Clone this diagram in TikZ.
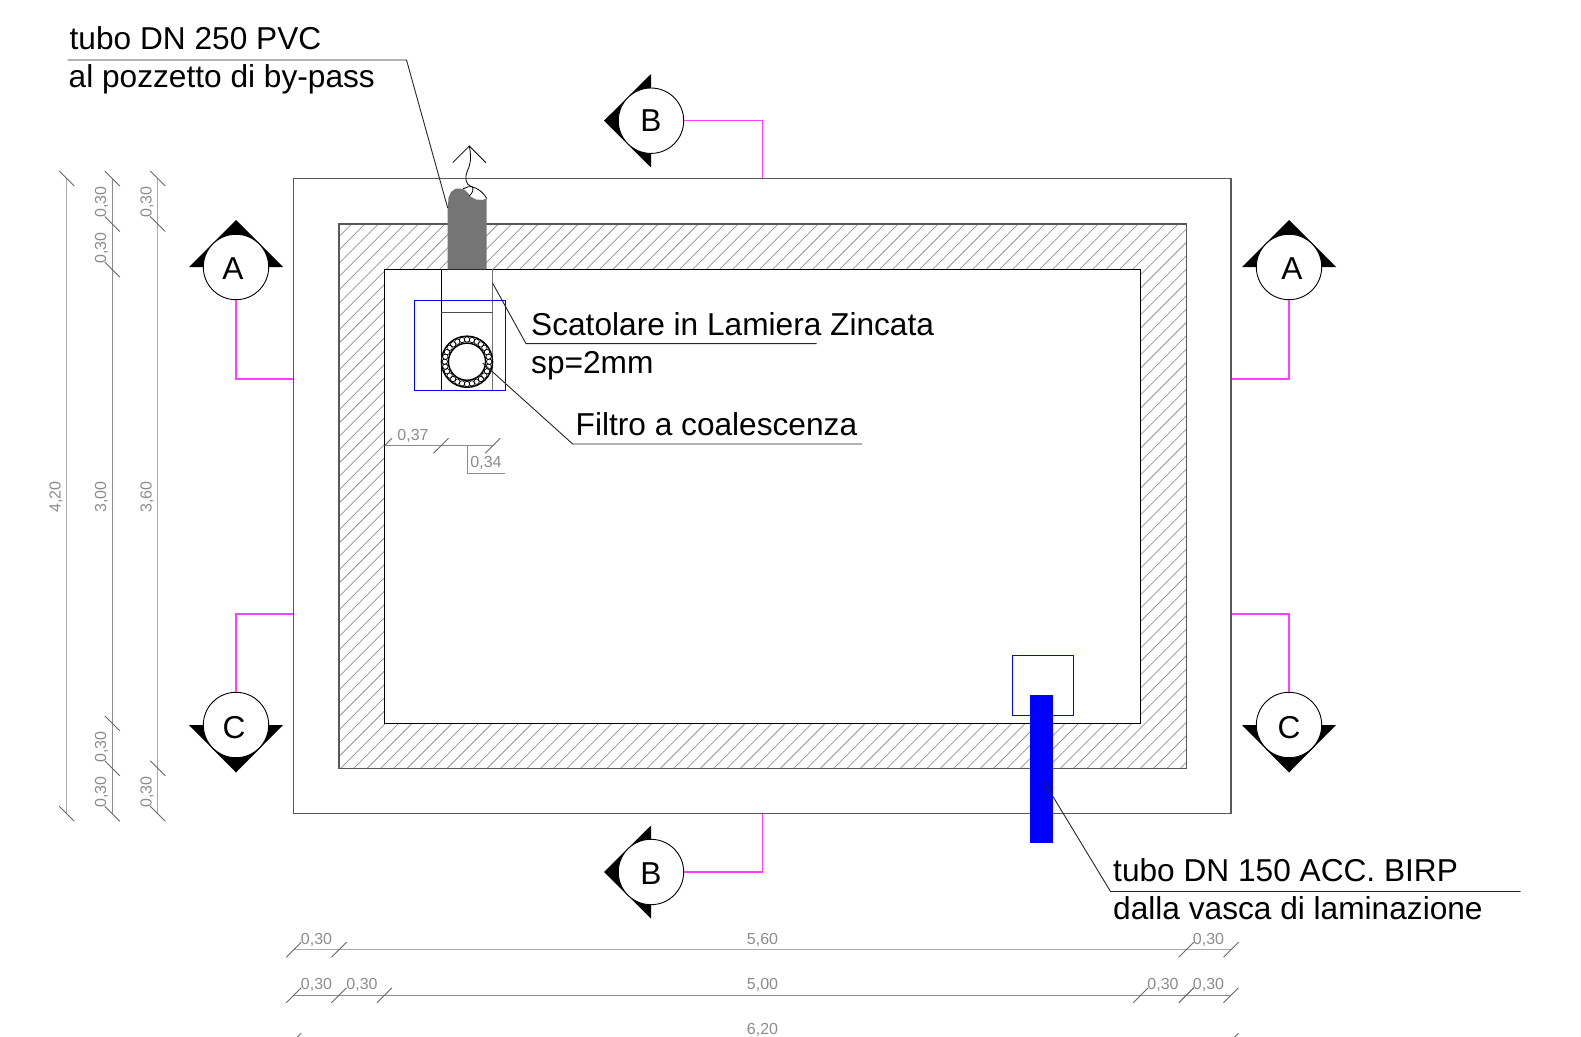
\documentclass[tikz,border=0pt]{standalone}
\usepackage{fontspec}
\usetikzlibrary{calc}
\setmainfont{Liberation Sans}
\newcommand{\txtfont}{\fontsize{31.65}{36}\selectfont}
\newcommand{\dimfont}{\fontsize{16}{18}\selectfont}
\definecolor{dimgrey}{HTML}{8C8C8C}
\definecolor{wallgrey}{HTML}{585858}
\definecolor{pipegrey}{HTML}{757575}
\definecolor{secmag}{HTML}{FF40FF}
\definecolor{cadblue}{HTML}{0000FF}
\tikzset{
  wall/.style={draw=wallgrey,line width=1.3pt},
  inner wall/.style={draw=black,line width=1.3pt},
  hatchline/.style={draw=black!42,line width=0.75pt},
  dimline/.style={draw=dimgrey,line width=0.9pt},
  dimlinewide/.style={draw=black!33,line width=1.5pt},
  dimtick/.style={draw=black!60,line width=0.9pt},
  dimlabel/.style={text=dimgrey,font=\dimfont,inner sep=0pt},
  leader/.style={draw=black!85,line width=0.9pt},
  sectionline/.style={draw=secmag,line width=1.4pt},
  sectionmark/.style={circle,draw=black,fill=white,line width=0.9pt,minimum size=65.4pt,inner sep=0pt,font=\txtfont},
  note/.style={anchor=base west,font=\txtfont,inner sep=0pt,text=black},
  bluebox/.style={draw=cadblue,line width=1pt},
}
\newcommand{\vtick}[2]{\draw[dimtick] (#1-7.5,#2-7.5) -- (#1+7.5,#2+7.5);}
\newcommand{\htick}[2]{\draw[dimtick] (#1-7.5,#2+7.5) -- (#1+7.5,#2-7.5);}
\begin{document}
\begin{tikzpicture}[x=1pt,y=-1pt]
\useasboundingbox (0,0) rectangle (1581,1036);
\clip (0,0) rectangle (1581,1036);
% section markers and magenta lines
\fill[black] (236,220) -- (283,267) -- (189,267) -- cycle;
\fill[black] (1289,220) -- (1336,267) -- (1242,267) -- cycle;
\fill[black] (236,772.5) -- (283,725) -- (189,725) -- cycle;
\fill[black] (1289,772.5) -- (1336,725) -- (1242,725) -- cycle;
\fill[black] (604,120.7) -- (651,74) -- (651,167.5) -- cycle;
\fill[black] (604,872) -- (651,825.5) -- (651,918.5) -- cycle;
\node[sectionmark] (Aleft) at (236,267) {\hspace{-6pt}\rule{0pt}{24.7pt}A};
\node[sectionmark] (Aright) at (1289,267) {\hspace{6pt}\rule{0pt}{24.7pt}A};
\node[sectionmark] (Cleft) at (236,725) {\hspace{-4pt}\rule{0pt}{26.5pt}C};
\node[sectionmark] (Cright) at (1289,725) {\rule{0pt}{26.5pt}C};
\node[sectionmark] (Btop) at (651,120.7) {B};
\node[sectionmark] (Bbot) at (651,872) {\rule{0pt}{24.7pt}B};
\coordinate (aL) at (293.7,379); \coordinate (aR) at (1231,379);
\coordinate (cL) at (293.7,614); \coordinate (cR) at (1231,614);
\coordinate (bT) at (762.5,178.5); \coordinate (bB) at (762.5,813.7);
\draw[sectionline] (Aleft.south) |- (aL);
\draw[sectionline] (Aright.south) |- (aR);
\draw[sectionline] (Cleft.north) |- (cL);
\draw[sectionline] (Cright.north) |- (cR);
\draw[sectionline] (Btop.east) -| (bT);
\draw[sectionline] (Bbot.east) -| (bB);
% slab
\draw[wall] (293.7,178.5) rectangle (1231,813.7);
% hatching
\begin{scope}
\clip (339,224) rectangle (1186.3,768.3);
\foreach \k in {-90,...,15}{
  \pgfmathsetmacro{\c}{1762+13.33*\k}
  \draw[hatchline] (\c-100,100) -- (\c-900,900);
}
\end{scope}
\draw[wall] (339,224) rectangle (1186.3,768.3);
\draw[inner wall,fill=white] (384.5,269.4) rectangle (1140.7,723.3);
% outlet pipe
\fill[pipegrey] (447.7,269.4) -- (447.7,209) -- (448.5,198) -- (451,192) -- (453,190.5) -- (456,188.5) -- (460,188.5) -- (464,189.5) -- (467,192) -- (471,197) -- (476,199.5) -- (482,200) -- (486.7,198.5) -- (486.7,269.4) -- cycle;
\draw[black,line width=0.8pt] (452.7,162.7) -- (469.3,146) -- (486,162.7);
\draw[black,line width=0.8pt] (469.3,146) .. controls (472,160) and (470,165) .. (467,172) .. controls (465,177) and (465,184) .. (471,186.5) .. controls (478,188) and (484,193) .. (486.7,198.5);
\draw[black,line width=0.8pt] (463,189) .. controls (467,187) and (470,186) .. (472,186.5) .. controls (474,189) and (473,193) .. (469,196);
% screening box
\draw[black,line width=1pt] (441,269.4) -- (441,390) -- (492.7,390);
\draw[black!55,line width=1.3pt] (492.7,269.4) -- (492.7,390);
\draw[black!70,line width=1pt] (441,312.3) -- (492.7,312.3);
\draw[bluebox] (414.7,300) rectangle (505.3,390);
% coalescence filter
\coordinate (filt) at (467,361.7);
\foreach \a in {0,12.857,...,350}{
  \draw[black,line width=0.7pt] ($(filt)+(\a:22.2)$) circle (2.7);
}
\draw[black,line width=1.4pt] (filt) circle (25.6);
\draw[black,line width=1.5pt] (filt) circle (18.6);
% inlet pipe
\draw[bluebox] (1012.3,655) rectangle (1073,715.7);
\fill[cadblue] (1030,695) rectangle (1053.3,843.3);
% notes
\node[note] (t1) at (69.5,49.5) {tubo DN 250 PVC};
\node[note] (t1b) at (68.5,87) {al pozzetto di by-pass};
\node[note] (t2) at (531,335) {Scatolare in Lamiera Zincata};
\node[note] (t2b) at (531,373) {sp=2mm};
\node[note] (t3) at (575.5,435) {Filtro a coalescenza};
\node[note] (t4) at (1113,881) {tubo DN 150 ACC. BIRP};
\node[note] (t4b) at (1113,919.5) {dalla vasca di laminazione};
% leaders
\coordinate (l1a) at (67.5,60); \coordinate (l1b) at (406.5,60); \coordinate (l1c) at (447.7,208);
\draw[leader] (l1a) -- (l1b) -- (l1c);
\coordinate (l2a) at (492.7,283.3); \coordinate (l2b) at (526,343.6); \coordinate (l2c) at (816.7,343.6);
\draw[leader] (l2a) -- (l2b) -- (l2c);
\coordinate (l3a) at (482.7,363); \coordinate (l3b) at (572.7,444); \coordinate (l3c) at (862,444);
\draw[leader] (l3a) -- (l3b) -- (l3c);
\coordinate (l4a) at (1044,781.7); \coordinate (l4b) at (1110.5,891.5); \coordinate (l4c) at (1520.5,891.5);
\draw[leader] (l4a) -- (l4b) -- (l4c);
% vertical dimensions
\draw[dimlinewide] (66.7,178.5) -- (66.7,813.7);
\draw[dimline] (112.3,178.5) -- (112.3,813.7);
\draw[dimlinewide] (157.7,178.5) -- (157.7,813.7);
\vtick{66.7}{178.5}\vtick{66.7}{813.7}
\foreach \y in {178.5,224,269.5,723.3,768.3,813.7}{\vtick{112.3}{\y}}
\foreach \y in {178.5,224,768.3,813.7}{\vtick{157.7}{\y}}
\node[dimlabel,rotate=90] (v1) at (56,497) {4,20};
\node[dimlabel,rotate=90] (v2a) at (101.5,202) {0,30};
\node[dimlabel,rotate=90] (v2b) at (101.5,248) {0,30};
\node[dimlabel,rotate=90] (v2c) at (101.5,497) {3,00};
\node[dimlabel,rotate=90] (v2d) at (101.5,747) {0,30};
\node[dimlabel,rotate=90] (v2e) at (101.5,792) {0,30};
\node[dimlabel,rotate=90] (v3a) at (147,202) {0,30};
\node[dimlabel,rotate=90] (v3c) at (147,497) {3,60};
\node[dimlabel,rotate=90] (v3e) at (147,792) {0,30};
% horizontal dimensions
\draw[dimlinewide] (293.7,949.7) -- (1231,949.7);
\draw[dimline] (293.7,995.3) -- (1231,995.3);
\foreach \x in {293.7,339,1186.3,1231}{\htick{\x}{949.7}}
\foreach \x in {293.7,339,384.5,1140.7,1186.3,1231}{\htick{\x}{995.3}}
\foreach \x in {293.7,1231}{\htick{\x}{1040.8}}
\node[dimlabel] (h1a) at (316.5,939.5) {0,30};
\node[dimlabel] (h1b) at (762.5,939.5) {5,60};
\node[dimlabel] (h1c) at (1208.5,939.5) {0,30};
\node[dimlabel] (h2a) at (316.5,984.5) {0,30};
\node[dimlabel] (h2b) at (362,984.5) {0,30};
\node[dimlabel] (h2c) at (762.5,984.5) {5,00};
\node[dimlabel] (h2d) at (1163,984.5) {0,30};
\node[dimlabel] (h2e) at (1208.5,984.5) {0,30};
\node[dimlabel] (h3) at (762.5,1030) {6,20};
% inner dimensions
\draw[dimline] (384.5,445.7) -- (492.7,445.7);
\draw[dimtick] (384.5,445.7) -- (392,438.2);
\htick{441}{445.7}\htick{492.7}{445.7}
\draw[dimline] (467.7,445.7) -- (467.7,473.3) -- (505,473.3);
\node[dimlabel] (i1) at (413,435.5) {0,37};
\node[dimlabel] (i2) at (486,462.5) {0,34};
\end{tikzpicture}
\end{document}
